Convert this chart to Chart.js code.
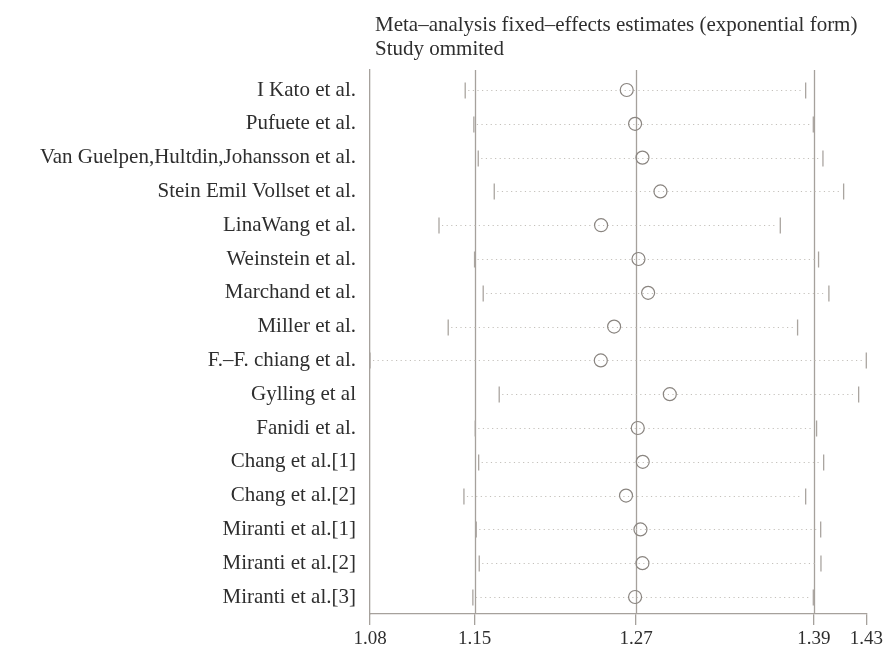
<!DOCTYPE html>
<html>
<head>
<meta charset="utf-8">
<script src="https://cdn.jsdelivr.net/npm/chart.js@4.4.0/dist/chart.umd.min.js"></script>
<style>
  html, body { margin: 0; padding: 0; background: #ffffff; }
  #wrap { width: 883px; height: 650px; position: relative; }
</style>
</head>
<body>
<div id="wrap"><canvas id="chart" width="883" height="650"></canvas></div>
<script>
// Study omitted, with the pooled estimate and 95% CI of the rest
const studies = [
    'I Kato et al.',
    'Pufuete et al.',
    'Van Guelpen,Hultdin,Johansson et al.',
    'Stein Emil Vollset et al.',
    'LinaWang et al.',
    'Weinstein et al.',
    'Marchand et al.',
    'Miller et al.',
    'F.\u2013F. chiang et al.',
    'Gylling et al',
    'Fanidi et al.',
    'Chang et al.[1]',
    'Chang et al.[2]',
    'Miranti et al.[1]',
    'Miranti et al.[2]',
    'Miranti et al.[3]'
];
const estimates = [1.2612, 1.2671, 1.2723, 1.2850, 1.2431, 1.2695, 1.2763, 1.2523,
                   1.2429, 1.2916, 1.2690, 1.2725, 1.2607, 1.2709, 1.2723, 1.2671];
const lower = [1.1472, 1.1533, 1.1564, 1.1677, 1.1287, 1.1538, 1.1599, 1.1352,
               1.0800, 1.1712, 1.1543, 1.1567, 1.1463, 1.1550, 1.1571, 1.1526];
const upper = [1.3875, 1.3929, 1.3997, 1.4143, 1.3696, 1.3966, 1.4039, 1.3818,
               1.4303, 1.4249, 1.3952, 1.4002, 1.3875, 1.3981, 1.3983, 1.3929];

// x ticks: range ends, lower CI, full estimate, upper CI
const tickValues = [1.0800, 1.1538, 1.2678, 1.3933, 1.4303];
const tickLabels = ['1.08', '1.15', '1.27', '1.39', '1.43'];
const refLines = [1.1538, 1.2678, 1.3933];

const titleLines = ['Meta\u2013analysis fixed\u2013effects estimates (exponential form)', 'Study ommited'];

const serif = '"Liberation Serif", "DejaVu Serif", serif';
const lineGray = '#a6a19c';
const textColor = '#2e2e2e';

// dotted CI lines, end caps, reference lines and the title
const forestPlugin = {
    id: 'forest',
    beforeDatasetsDraw(chart) {
        const ctx = chart.ctx;
        const area = chart.chartArea;
        const x = chart.scales.x;
        const y = chart.scales.y;

        ctx.save();
        ctx.beginPath();
        ctx.rect(area.left, area.top - 1, area.right - area.left + 2, area.bottom - area.top + 2);
        ctx.clip();

        // vertical reference lines
        ctx.strokeStyle = lineGray;
        ctx.lineWidth = 1.3;
        refLines.forEach(v => {
            const px = Math.round(x.getPixelForValue(v)) + 0.5;
            ctx.beginPath();
            ctx.moveTo(px, area.top);
            ctx.lineTo(px, area.bottom);
            ctx.stroke();
        });

        studies.forEach((s, i) => {
            const py = Math.round(y.getPixelForValue(i + 1)) + 0.5;
            const x1 = x.getPixelForValue(lower[i]);
            const x2 = x.getPixelForValue(upper[i]);

            ctx.strokeStyle = '#c4c0bb';
            ctx.lineWidth = 1;
            ctx.setLineDash([1.2, 3.4]);
            ctx.beginPath();
            ctx.moveTo(x1 + 3, py);
            ctx.lineTo(x2 - 3, py);
            ctx.stroke();
            ctx.setLineDash([]);

            ctx.strokeStyle = '#aaa5a0';
            ctx.lineWidth = 1.3;
            [x1, x2].forEach(px => {
                ctx.beginPath();
                ctx.moveTo(px, py - 8);
                ctx.lineTo(px, py + 8);
                ctx.stroke();
            });
        });
        ctx.restore();

        ctx.save();
        ctx.fillStyle = textColor;
        ctx.font = '21px ' + serif;
        ctx.textAlign = 'left';
        ctx.textBaseline = 'alphabetic';
        ctx.fillText(titleLines[0], area.left + 5, 31);
        ctx.fillText(titleLines[1], area.left + 5, 54.5);
        ctx.restore();
    }
};

const ctx = document.getElementById('chart').getContext('2d');
const chart = new Chart(ctx, {
    type: 'scatter',
    data: {
        datasets: [{
            data: estimates.map((v, i) => ({ x: v, y: i + 1 })),
            pointStyle: 'circle',
            pointRadius: 6.5,
            pointHoverRadius: 6.5,
            borderColor: '#8a8580',
            borderWidth: 1.2,
            backgroundColor: 'rgba(0,0,0,0)'
        }]
    },
    options: {
        responsive: false,
        animation: false,
        layout: {
            padding: { top: 70, right: 16.7, left: 0, bottom: 0 }
        },
        plugins: {
            legend: { display: false },
            tooltip: { enabled: false },
            title: { display: false }
        },
        scales: {
            x: {
                type: 'linear',
                min: tickValues[0],
                max: tickValues[tickValues.length - 1],
                afterBuildTicks(scale) {
                    scale.ticks = tickValues.map(v => ({ value: v }));
                },
                afterFit(scale) {
                    scale.height = 36;
                    scale.paddingLeft = 0;
                    scale.paddingRight = 0;
                },
                ticks: {
                    autoSkip: false,
                    maxRotation: 0,
                    padding: 3,
                    color: textColor,
                    font: { family: serif, size: 19 },
                    callback: (value, index) => tickLabels[index]
                },
                grid: {
                    drawOnChartArea: false,
                    drawTicks: true,
                    tickLength: 11,
                    tickColor: lineGray,
                    lineWidth: 1.3
                },
                border: { display: true, color: lineGray, width: 1.3 }
            },
            y: {
                type: 'linear',
                reverse: true,
                min: 0.408,
                max: 16.503,
                afterBuildTicks(scale) {
                    scale.ticks = studies.map((s, i) => ({ value: i + 1 }));
                },
                afterFit(scale) {
                    scale.width = 370;
                    scale.paddingTop = 0;
                    scale.paddingBottom = 0;
                },
                ticks: {
                    autoSkip: false,
                    padding: 14,
                    color: textColor,
                    font: { family: serif, size: 21 },
                    callback: value => studies[value - 1]
                },
                grid: { display: false, drawTicks: false },
                border: { display: true, color: lineGray, width: 1.3 }
            }
        }
    },
    plugins: [forestPlugin]
});
</script>
</body>
</html>
